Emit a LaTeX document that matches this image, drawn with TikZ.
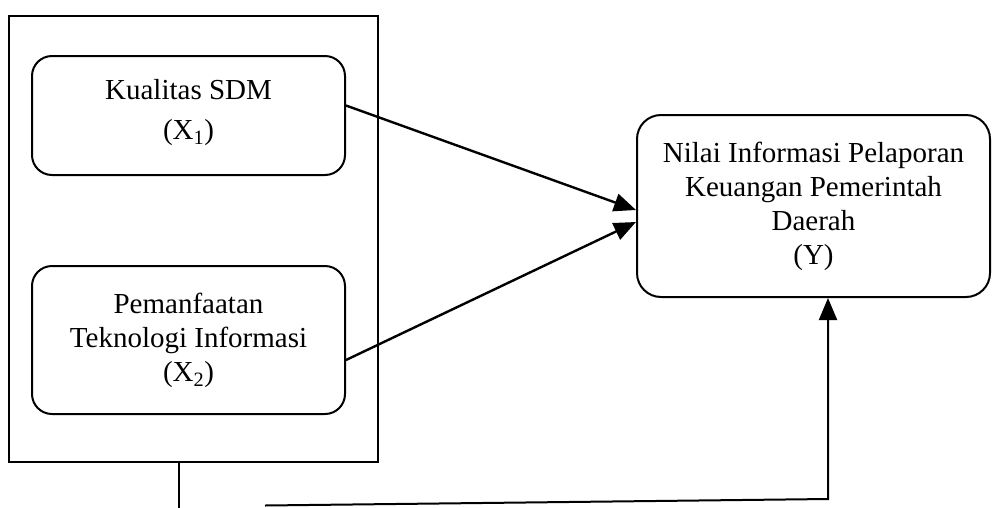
\documentclass[tikz,border=0pt]{standalone}
\usepackage{fontspec}
\setmainfont{Liberation Serif}
\usetikzlibrary{arrows.meta}
\begin{document}
\begin{tikzpicture}[x=1pt,y=-1pt,
  box/.style={draw,line width=2pt,rounded corners=20pt,align=center,inner sep=0pt,font=\fontsize{29}{34}\selectfont},
  conn/.style={line width=2.4pt,-{Triangle[length=22pt,width=18pt]}},
  plainline/.style={line width=1.6pt}]
\useasboundingbox (0,0) rectangle (993,507);
\node[draw,line width=1.6pt,minimum width=369pt,minimum height=446pt,inner sep=0pt] (frame) at (193.5,239) {};
\node[box,minimum width=313pt,minimum height=119pt] (x1) at (188.5,115.5) {Kualitas SDM\\[6pt](X\textsubscript{1})\\[-22pt]~};
\node[box,minimum width=313pt,minimum height=148pt] (x2) at (188.5,340) {Pemanfaatan\\Teknologi Informasi\\(X\textsubscript{2})};
\node[box,rounded corners=24pt,minimum width=353pt,minimum height=182pt] (y) at (813.5,206) {Nilai Informasi Pelaporan\\Keuangan Pemerintah\\Daerah\\(Y)};
\draw[conn] ([yshift=10pt]x1.east) -- ([yshift=-4pt]y.west);
\draw[conn] ([yshift=-20pt]x2.east) -- ([yshift=-16pt]y.west);
\draw[plainline] ([xshift=-14.5pt]frame.south) -- ++(0,45);
\coordinate (bl) at (265,505.5);
\coordinate (br) at (828,499);
\draw[conn,line width=2pt] (bl) -- (br) -- (br |- y.south);
\end{tikzpicture}
\end{document}
